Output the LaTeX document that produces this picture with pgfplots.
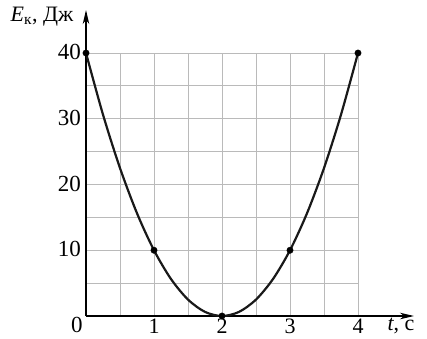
\documentclass[border=0pt]{standalone}
\usepackage{fontspec}
\setmainfont{Liberation Serif}
\usepackage{pgfplots}
\pgfplotsset{compat=1.18}
\usetikzlibrary{arrows.meta}
\begin{document}
\begin{tikzpicture}[font=\fontsize{22}{26}\selectfont]
\useasboundingbox (-86pt,-22pt) rectangle (341pt,316pt);
\begin{axis}[
  at={(0,0)}, anchor=origin,
  scale only axis, width=272pt, height=263pt,
  xmin=0, xmax=4, ymin=0, ymax=40,
  axis lines=left,
  axis line style={line width=1.3pt, -{Stealth[length=14pt,width=6.5pt,inset=4pt]}},
  x axis line style={shorten >=-56pt},
  y axis line style={shorten >=-43pt},
  xtick={1,2,3,4}, minor xtick={0.5,1.5,2.5,3.5},
  ytick={10,20,30,40}, minor ytick={5,15,25,35},
  grid=both,
  major grid style={black!27, line width=0.9pt},
  minor grid style={black!27, line width=0.9pt},
  major tick length=0pt, minor tick length=0pt,
  tick label style={font=\fontsize{23}{26}\selectfont, inner sep=0pt},
  /pgf/number format/assume math mode=true,
  xticklabel style={yshift=-2.5pt, font=\fontsize{22}{24}\selectfont},
  yticklabel style={xshift=-5pt, yshift=1pt},
  clip=false,
]
% kinetic energy versus time
\addplot[black!90, line width=2.2pt, smooth] coordinates {
  (0,40) (0.25,30.625) (0.5,22.5) (0.75,15.625) (1,10) (1.25,5.625)
  (1.5,2.5) (1.75,0.625) (2,0) (2.25,0.625) (2.5,2.5) (2.75,5.625)
  (3,10) (3.25,15.625) (3.5,22.5) (3.75,30.625) (4,40)
};
\addplot[only marks, mark=*, mark size=3.2pt, black] coordinates {
  (0,40) (1,10) (2,0) (3,10) (4,40)
};
\node[inner sep=0pt] at (axis cs:0,0) [xshift=-9pt, yshift=-9pt] {\fontsize{23}{26}\selectfont 0};
\node[inner sep=0pt] at (axis cs:4,0) [xshift=43pt, yshift=-10pt] {\textit{t}, с};
\node at (axis cs:0,40) [xshift=-44pt, yshift=36pt] {\textit{E}\textsubscript{к}, Дж};
\end{axis}
\end{tikzpicture}
\end{document}
